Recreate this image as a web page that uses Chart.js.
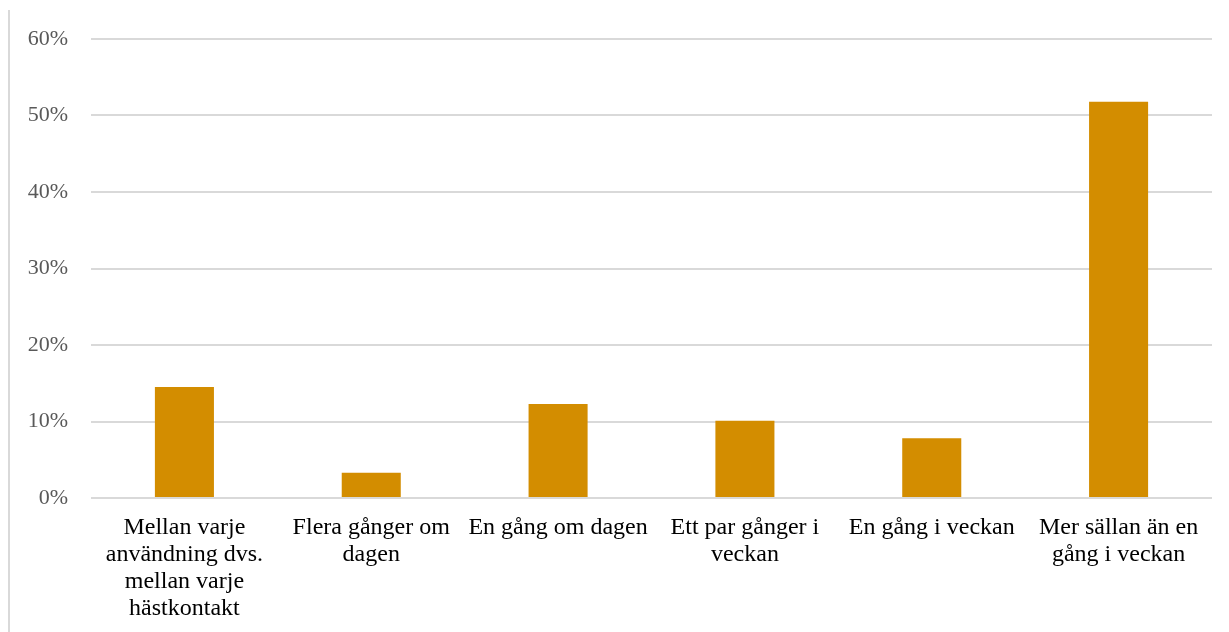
<!DOCTYPE html>
<html>
<head>
<meta charset="utf-8">
<script src="https://cdn.jsdelivr.net/npm/chart.js@4/dist/chart.umd.min.js"></script>
<style>
  body { margin: 0; background: #fff; }
  #ram { position: absolute; left: 0; top: 0; width: 1229px; height: 632px; }
  #kant { position: absolute; left: 8px; top: 10px; width: 2px; height: 622px; background: #d9d9d9; }
</style>
</head>
<body>
<div id="ram">
  <div id="kant"></div>
  <canvas id="myChart" width="1229" height="632"></canvas>
</div>
<script>
// kategorier (x-axeln), flera rader per etikett
var kategorier = [
    ["Mellan varje", "användning dvs.", "mellan varje", "hästkontakt"],
    ["Flera gånger om", "dagen"],
    ["En gång om dagen"],
    ["Ett par gånger i", "veckan"],
    ["En gång i veckan"],
    ["Mer sällan än en", "gång i veckan"]
];
// andel svar i procent
var andelar = [14.5, 3.3, 12.3, 10.1, 7.8, 51.8];
var yMax = 60;
var ySteg = 10;

var ctx = document.getElementById('myChart').getContext('2d');
var myChart = new Chart(ctx, {
    type: 'bar',
    data: {
        labels: kategorier,
        datasets: [{
            data: andelar,
            backgroundColor: "#D38D00",
            categoryPercentage: 1,
            barPercentage: 0.316
        }]
    },
    options: {
        responsive: false,
        animation: false,
        layout: { padding: { top: 39, right: 17, bottom: 0, left: 0 } },
        plugins: { legend: { display: false }, tooltip: { enabled: false } },
        scales: {
            x: {
                grid: { display: false },
                border: { display: false },
                ticks: {
                    color: "#000",
                    font: { family: "'Liberation Serif', 'Times New Roman', serif", size: 24, lineHeight: 1.13 },
                    padding: 8,
                    maxRotation: 0,
                    autoSkip: false
                },
                afterFit: function(scale) { scale.height = 134; }
            },
            y: {
                min: 0,
                max: yMax,
                border: { display: false },
                grid: { color: "#d9d9d9", lineWidth: 2, drawTicks: false },
                ticks: {
                    stepSize: ySteg,
                    color: "#595959",
                    font: { family: "'Liberation Serif', 'Times New Roman', serif", size: 22 },
                    padding: 23,
                    callback: function(v) { return v + "%"; }
                },
                afterFit: function(scale) { scale.width = 91; }
            }
        }
    }
});
</script>
</body>
</html>
